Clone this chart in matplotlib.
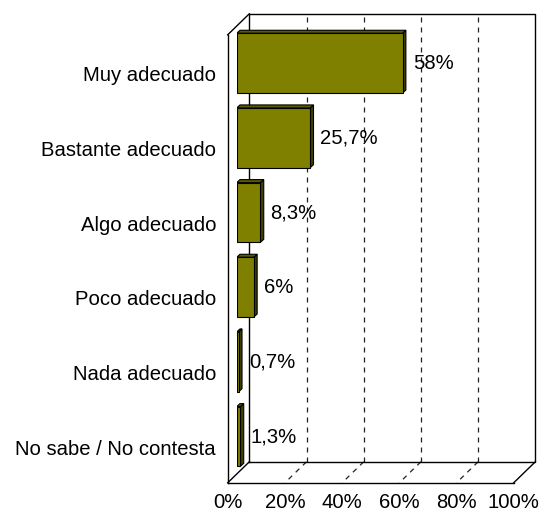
import matplotlib
matplotlib.use('Agg')
import matplotlib.pyplot as plt
from matplotlib.patches import Polygon

plt.rcParams['font.family'] = ['Liberation Sans', 'DejaVu Sans']

categories = ['Muy adecuado', 'Bastante adecuado', 'Algo adecuado',
              'Poco adecuado', 'Nada adecuado', 'No sabe / No contesta']
values = [58, 25.7, 8.3, 6, 0.7, 1.3]
value_labels = ['58%', '25,7%', '8,3%', '6%', '0,7%', '1,3%']
ticks = [0, 20, 40, 60, 80, 100]
tick_labels = ['0%', '20%', '40%', '60%', '80%', '100%']

W, H = 544, 516
fig = plt.figure(figsize=(W / 100, H / 100), dpi=100)
left, top, aw, ah = 236.7, 25.8, 286, 448
ax = fig.add_axes([left / W, (H - top - ah) / H, aw / W, ah / H])
ax.set_xlim(0, 100)
ax.set_ylim(len(categories) - 0.5, -0.5)
ax.axis('off')

fs = 14.6
# depth offsets in pixels -> axes fractions
bx, by = 12.6 / aw, 12 / ah     # back wall
fx, fy = -9 / aw, -9 / ah       # front edge


def line(xs, ys, **kw):
    kw.setdefault('color', 'black')
    kw.setdefault('lw', 1)
    ax.plot(xs, ys, transform=ax.transAxes, clip_on=False, **kw)


# back wall
line([bx, 1 + bx, 1 + bx, bx, bx], [by, by, 1 + by, 1 + by, by])
# left wall
line([fx, fx], [fy, 1 + fy])
line([fx, bx], [1 + fy, 1 + by])
line([fx, bx], [fy, by])
# floor
line([fx, 1 + fx], [fy, fy])
line([1 + fx, 1 + bx], [fy, by])

# dashed gridlines on back wall and floor
for t in ticks[1:-1]:
    p = t / 100
    line([p + bx, p + bx], [by, 1 + by], dashes=(4, 4), lw=0.9,
         color='#222222', zorder=1)
    line([p + bx, p + fx], [by, fy], dashes=(4, 4), lw=0.9,
         color='#222222', zorder=1)

ypos = list(range(len(categories)))
bh = 0.8
ax.barh(ypos, values, height=bh, color='#808000', edgecolor='black',
        lw=0.8, zorder=4)

# bar depth: 3.3 px right, 3 px up, expressed in data units
dx = 3.3 / aw * 100
dy = 3 / ah * len(categories)
for i, v in enumerate(values):
    t0, b0 = i - bh / 2, i + bh / 2
    right = Polygon([(v, t0), (v + dx, t0 - dy), (v + dx, b0 - dy), (v, b0)],
                    closed=True, fc='#404000', ec='black', lw=0.8, zorder=3)
    topf = Polygon([(0, t0), (dx, t0 - dy), (v + dx, t0 - dy), (v, t0)],
                   closed=True, fc='#5a5a00', ec='black', lw=0.8, zorder=3)
    ax.add_patch(right)
    ax.add_patch(topf)

for i, (v, lab) in enumerate(zip(values, value_labels)):
    ax.annotate(lab, xy=(v, i), xytext=(7.3, -4), textcoords='offset points',
                ha='left', va='baseline', fontsize=fs, zorder=5)

for i, cat in enumerate(categories):
    ax.annotate(cat, xy=(0, i), xycoords=('axes fraction', 'data'),
                xytext=(-14.9, -13), textcoords='offset points',
                ha='right', va='baseline', fontsize=fs)

for t, lab in zip(ticks, tick_labels):
    ax.annotate(lab, xy=(t, 0), xycoords=('data', 'axes fraction'),
                xytext=(-6.5, -24.5), textcoords='offset points',
                ha='center', va='baseline', fontsize=fs)

fig.savefig('out.png', dpi=100)
